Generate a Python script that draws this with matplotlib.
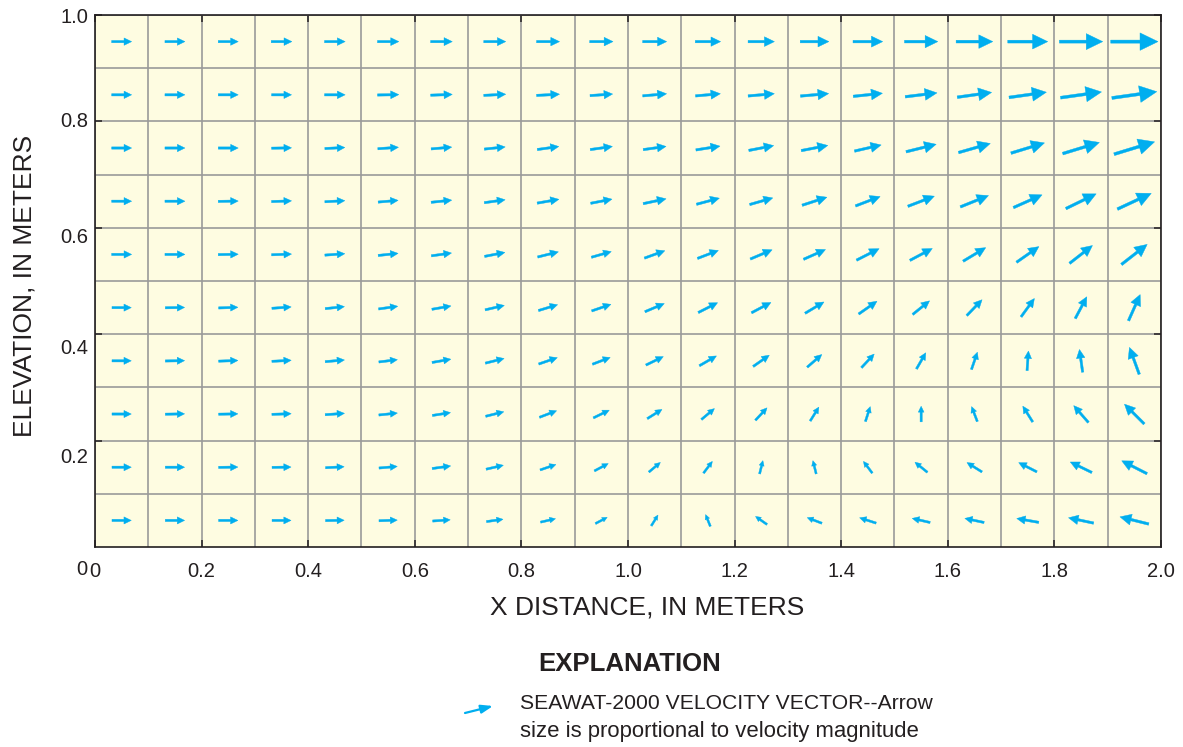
import numpy as np
import matplotlib
matplotlib.use('Agg')
import matplotlib.pyplot as plt
from matplotlib.transforms import offset_copy

plt.rcParams['font.family'] = ['Liberation Sans', 'DejaVu Sans']

# cell centres of the model grid (m)
x_centers = [0.05, 0.15, 0.25, 0.35, 0.45, 0.55, 0.65, 0.75, 0.85, 0.95,
             1.05, 1.15, 1.25, 1.35, 1.45, 1.55, 1.65, 1.75, 1.85, 1.95]
z_centers = [0.95, 0.85, 0.75, 0.65, 0.55, 0.45, 0.35, 0.25, 0.15, 0.05]

# relative velocity magnitude, one row per layer (top to bottom)
speed = [
    [60, 60, 60, 62, 62, 64, 65, 66, 69, 70, 72, 76, 79, 86, 89, 100, 110, 120, 130, 142],
    [60, 60, 60, 60, 62, 64, 65, 66, 69, 68, 72, 75, 79, 85, 88, 96, 104, 113, 124, 136],
    [60, 60, 60, 60, 60, 62, 62, 63, 65, 67, 69, 73, 76, 81, 82, 93, 99, 105, 115, 127],
    [60, 60, 60, 60, 60, 60, 62, 63, 66, 65, 70, 71, 72, 78, 79, 85, 91, 94, 101, 112],
    [60, 60, 60, 60, 60, 60, 61, 62, 64, 62, 65, 67, 71, 72, 76, 76, 79, 82, 87, 98],
    [58, 58, 58, 58, 58, 58, 58, 59, 60, 61, 63, 65, 66, 66, 67, 65, 66, 68, 74, 86],
    [58, 58, 58, 58, 58, 56, 57, 58, 59, 57, 58, 59, 59, 58, 56, 56, 55, 59, 69, 86],
    [58, 58, 58, 58, 58, 56, 55, 56, 55, 53, 52, 51, 51, 49, 47, 47, 48, 56, 67, 84],
    [58, 58, 58, 57, 56, 55, 56, 53, 50, 47, 45, 44, 41, 41, 44, 48, 53, 61, 72, 85],
    [58, 58, 58, 57, 56, 55, 53, 50, 46, 40, 38, 38, 42, 47, 52, 55, 59, 67, 77, 89],
]

# flow direction, degrees counter-clockwise from +x
direction = [
    [0, 0, 0, 0, 0, 0, 0, 0, 0, 0, 0, 0, 0, 0, 0, 0, 0, 0, 0, 0],
    [0, 0, 0, 0, 0, 1, 2, 3, 3, 4, 5, 5, 5, 5, 6, 7, 8, 8, 8, 8],
    [0, 0, 0, 1, 3, 4, 5, 6, 8, 8, 8, 9, 11, 11, 13, 14, 16, 17, 17, 17],
    [0, 0, 1, 2, 3, 5, 6, 8, 10, 11, 12, 15, 16, 18, 21, 21, 22, 24, 26, 25],
    [0, 0, 1, 2, 4, 6, 8, 11, 14, 16, 20, 21, 23, 24, 27, 28, 31, 35, 38, 38],
    [0, 1, 2, 4, 6, 8, 10, 13, 17, 19, 23, 27, 28, 31, 35, 39, 46, 54, 62, 66],
    [0, 1, 2, 3, 5, 7, 10, 14, 19, 21, 26, 30, 35, 41, 47, 60, 71, 86, 98, 110],
    [0, 1, 1, 2, 4, 6, 9, 14, 21, 26, 32, 40, 47, 58, 72, 90, 111, 122, 131, 135],
    [0, 0, 1, 1, 3, 5, 8, 13, 19, 28, 40, 53, 76, 104, 127, 141, 148, 153, 154, 153],
    [0, 0, 0, 0, 1, 2, 4, 8, 13, 28, 58, 112, 145, 159, 162, 167, 168, 170, 168, 166],
]

xticks = [0.0, 0.2, 0.4, 0.6, 0.8, 1.0, 1.2, 1.4, 1.6, 1.8, 2.0]
xticklabels = ['0', '0.2', '0.4', '0.6', '0.8', '1.0', '1.2', '1.4', '1.6', '1.8', '2.0']
yticks = [0.2, 0.4, 0.6, 0.8, 1.0]
yticklabels = ['0.2', '0.4', '0.6', '0.8', '1.0']

ARROW = '#00aeef'
DARK = '#231f20'

fig = plt.figure(figsize=(11.83, 7.47), dpi=100)
ax = fig.add_axes([0.0803, 0.2677, 0.9011, 0.7122])
ax.set_facecolor('#fefce1')
ax.set_xlim(0, 2.0)
ax.set_ylim(0, 1.0)

# cell grid
ax.set_xticks(np.arange(0.1, 2.0, 0.2), minor=True)
ax.set_yticks(np.arange(0.1, 1.0, 0.2), minor=True)
ax.set_xticks(xticks)
ax.set_yticks(yticks)
ax.grid(which='both', color='#9a9a9a', linewidth=1.2, zorder=0)
ax.set_axisbelow(True)

# velocity vectors (centred on each cell)
scale = 0.000625  # data units per unit of speed
for i, zc in enumerate(z_centers):
    for j, xc in enumerate(x_centers):
        L = speed[i][j] * scale
        a = np.radians(direction[i][j])
        dx, dy = L * np.cos(a), L * np.sin(a)
        ax.arrow(xc - dx / 2, zc - dy / 2, dx, dy, length_includes_head=True,
                 width=0.0031 + 0.03 * L, head_width=0.37 * L, head_length=0.38 * L,
                 color=ARROW, lw=0.3, zorder=3)

for s in ax.spines.values():
    s.set_linewidth(1.2)
    s.set_color(DARK)
ax.tick_params(which='major', direction='in', length=5, width=1.1, color=DARK,
               top=True, right=True, labelsize=14.5, labelcolor=DARK)
ax.tick_params(which='minor', length=0)
ax.tick_params(axis='x', pad=11)
ax.set_xticklabels(xticklabels)
ax.set_yticklabels([])

# y tick labels sit a little below their ticks in the original
y_offsets = [-12, -10, -7, 0, -2]
for yv, lab, off in zip(yticks, yticklabels, y_offsets):
    tr = offset_copy(ax.get_yaxis_transform(), fig=fig, x=-5, y=off, units='points')
    ax.text(0, yv, lab, transform=tr, ha='right', va='center', fontsize=14.5, color=DARK)
tr0 = offset_copy(ax.transData, fig=fig, x=-9.5, y=-16.5, units='points')
ax.text(0, 0, '0', transform=tr0, ha='center', va='center', fontsize=14.5, color=DARK)

fig.text(0.5473, 0.1874, 'X DISTANCE, IN METERS', ha='center', va='center',
         fontsize=19, color=DARK)
fig.text(0.0211, 0.617, 'ELEVATION, IN METERS', ha='center', va='center',
         rotation=90, fontsize=19, color=DARK)

# explanation
fig.text(0.5325, 0.1111, 'EXPLANATION', ha='center', va='center',
         fontsize=18.5, fontweight='bold', color=DARK)
fig.text(0.4396, 0.0576, 'SEAWAT-2000 VELOCITY VECTOR--Arrow', ha='left', va='center',
         fontsize=15.2, color=DARK)
fig.text(0.4396, 0.0214, 'size is proportional to velocity magnitude', ha='left',
         va='center', fontsize=15.9, color=DARK)
ax.annotate('', xy=(493 / 1183, 1 - 706 / 747), xytext=(465 / 1183, 1 - 713 / 747),
            xycoords='figure fraction', textcoords='figure fraction',
            arrowprops=dict(arrowstyle='-|>,head_length=0.7,head_width=0.25',
                            color=ARROW, lw=1.6, shrinkA=0, shrinkB=0))

fig.savefig('out.png', dpi=100)
